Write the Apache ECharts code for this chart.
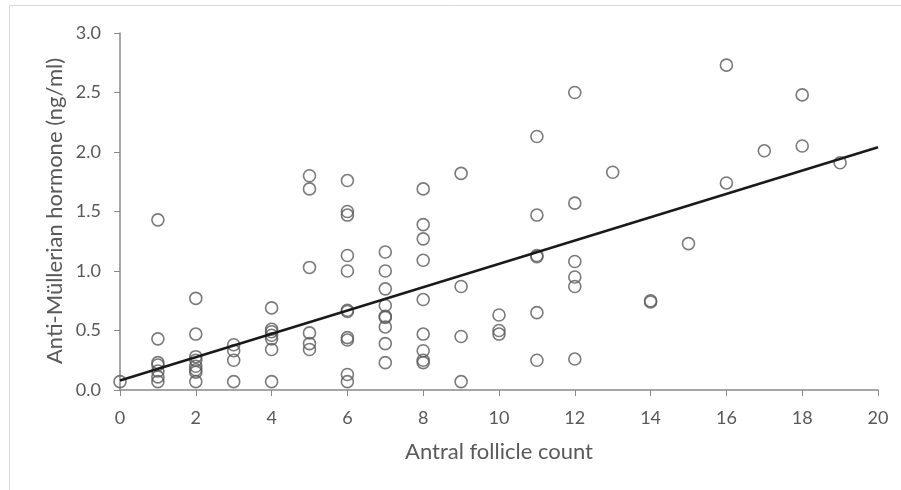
<!DOCTYPE html>
<html>
<head>
<meta charset="utf-8">
<script src="https://cdn.jsdelivr.net/npm/echarts@6/dist/echarts.min.js"></script>
<style>
html,body{margin:0;padding:0;background:#fff;}
#chart{width:901px;height:490px;}
</style>
</head>
<body>
<div id="chart"></div>
<script>
// Antral follicle count (x) and AMH (y)
const afc = [
  0,
  1,1,1,1,1,1,1,
  2,2,2,2,2,2,2,2,
  3,3,3,3,
  4,4,4,4,4,4,4,
  5,5,5,5,5,5,
  6,6,6,6,6,6,6,6,6,6,6,
  7,7,7,7,7,7,7,7,7,
  8,8,8,8,8,8,8,8,8,
  9,9,9,9,
  10,10,10,
  11,11,11,11,11,11,
  12,12,12,12,12,12,
  13,
  14,14,
  15,
  16,16,
  17,
  18,18,
  19
];
const amh = [
  0.07,
  1.43,0.43,0.23,0.21,0.16,0.11,0.07,
  0.77,0.47,0.28,0.25,0.20,0.17,0.15,0.07,
  0.38,0.33,0.25,0.07,
  0.69,0.51,0.49,0.46,0.43,0.34,0.07,
  1.80,1.69,1.03,0.48,0.39,0.34,
  1.76,1.50,1.47,1.13,1.00,0.67,0.66,0.44,0.42,0.13,0.07,
  1.16,1.00,0.85,0.71,0.62,0.61,0.53,0.39,0.23,
  1.69,1.39,1.27,1.09,0.76,0.47,0.33,0.25,0.23,
  1.82,0.87,0.45,0.07,
  0.63,0.50,0.47,
  2.13,1.47,1.13,1.12,0.65,0.25,
  2.50,1.57,1.08,0.95,0.87,0.26,
  1.83,
  0.75,0.74,
  1.23,
  2.73,1.74,
  2.01,
  2.48,2.05,
  1.91
];
// Linear trendline end points
const trendX = [0, 20];
const trendY = [0.08, 2.04];

const xTicks = [0,2,4,6,8,10,12,14,16,18,20];
const yTicks = ['0.0','0.5','1.0','1.5','2.0','2.5','3.0'];
const xTitle = 'Antral follicle count';
const yTitle = 'Anti-Müllerian hormone (ng/ml)';

const font = 'Lato, "Open Sans", sans-serif';
const axisColor = '#898989';
const textColor = '#595959';

const chart = echarts.init(document.getElementById('chart'), null, {renderer:'canvas'});
chart.setOption({
  animation: false,
  backgroundColor: '#ffffff',
  graphic: [{
    type: 'rect',
    shape: {x: 9.5, y: 5.5, width: 1000, height: 1000},
    style: {fill: 'none', stroke: '#d9d9d9', lineWidth: 1},
    silent: true, z: -1
  }, {
    type: 'text',
    x: 55, y: 211,
    rotation: Math.PI / 2,
    style: {text: yTitle, fill: textColor, fontSize: 22, fontFamily: font,
      align: 'center', verticalAlign: 'middle'},
    silent: true
  }],
  grid: {left: 120, right: 23, top: 33, bottom: 100},
  xAxis: {
    type: 'value', min: 0, max: 20, interval: 2,
    name: xTitle, nameLocation: 'middle', nameGap: 51,
    nameTextStyle: {color: textColor, fontSize: 22, fontFamily: font},
    axisLine: {show: true, lineStyle: {color: axisColor, width: 1.5}},
    axisTick: {show: true, length: 6, lineStyle: {color: axisColor, width: 1}},
    axisLabel: {color: textColor, fontSize: 18, fontFamily: font, margin: 19,
      formatter: v => xTicks.indexOf(v) >= 0 ? String(v) : ''},
    splitLine: {show: false}
  },
  yAxis: {
    type: 'value', min: 0, max: 3, interval: 0.5,
    axisLine: {show: true, lineStyle: {color: axisColor, width: 1.5}},
    axisTick: {show: true, length: 6, lineStyle: {color: axisColor, width: 1}},
    axisLabel: {color: textColor, fontSize: 18, fontFamily: font, margin: 19,
      formatter: v => yTicks[Math.round(v * 2)]},
    splitLine: {show: false}
  },
  series: [
    {
      type: 'scatter',
      data: afc.map((x, i) => [x, amh[i]]),
      symbol: 'circle',
      symbolSize: 12,
      itemStyle: {color: 'rgba(255,255,255,0)', borderColor: '#595959', borderWidth: 1.6},
      z: 2
    },
    {
      type: 'line',
      data: trendX.map((x, i) => [x, trendY[i]]),
      showSymbol: false,
      symbol: 'none',
      lineStyle: {color: '#1a1a1a', width: 2.5},
      z: 3
    }
  ]
});
</script>
</body>
</html>
